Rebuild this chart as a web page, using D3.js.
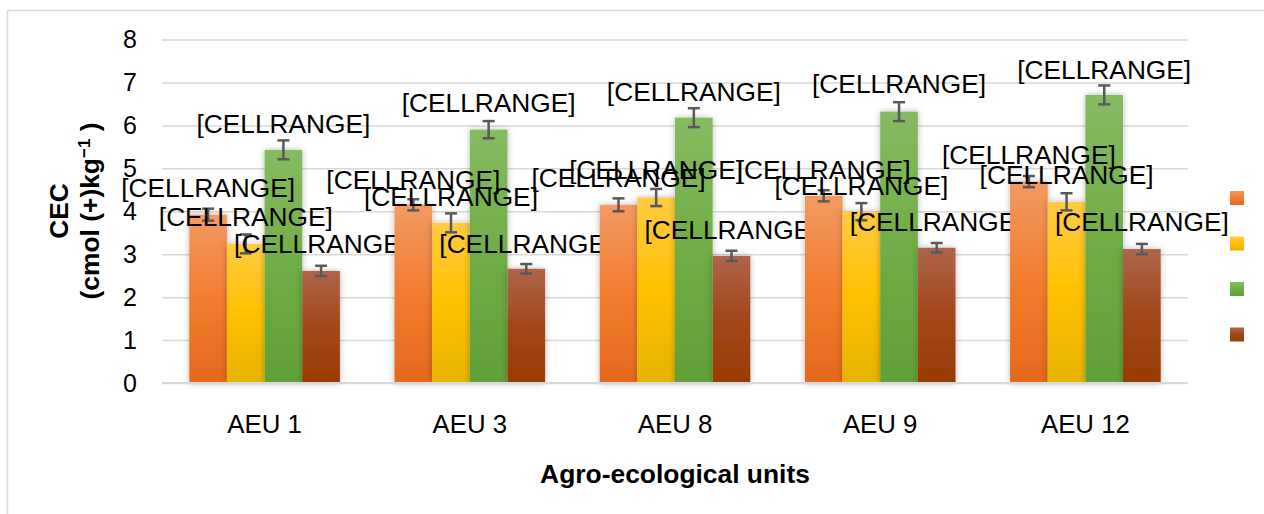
<!DOCTYPE html>
<html>
<head>
<meta charset="utf-8">
<script src="https://cdn.jsdelivr.net/npm/d3@7"></script>
<style>
  html, body { margin: 0; padding: 0; background: #fff; }
  svg { display: block; font-family: "Liberation Sans", Arial, sans-serif; }
</style>
</head>
<body>
<svg id="chart" width="1264" height="514"></svg>
<script>
// ---- data ----
const categories = ["AEU 1", "AEU 3", "AEU 8", "AEU 9", "AEU 12"];
const seriesNames = ["s1", "s2", "s3", "s4"];
const orangeValues = [3.92, 4.15, 4.15, 4.36, 4.69];
const yellowValues = [3.24, 3.73, 4.32, 3.99, 4.22];
const greenValues  = [5.43, 5.90, 6.18, 6.32, 6.71];
const brownValues  = [2.61, 2.66, 2.96, 3.15, 3.12];
const orangeErr = [0.14, 0.13, 0.15, 0.13, 0.13];
const yellowErr = [0.22, 0.22, 0.20, 0.20, 0.20];
const greenErr  = [0.22, 0.20, 0.22, 0.22, 0.22];
const brownErr  = [0.12, 0.11, 0.12, 0.11, 0.12];
// data-label anchor heights (axis units), labels are manually placed "[CELLRANGE]"
const orangeLabelAt = [4.54, 4.73, 4.77, 4.96, 5.31];
const yellowLabelAt = [3.87, 4.33, 4.96, 4.59, 4.84];
const greenLabelAt  = [6.03, 6.52, 6.78, 6.96, 7.29];
const brownLabelAt  = [3.24, 3.24, 3.56, 3.75, 3.75];
const labelText = "[CELLRANGE]";
const yTicks = [0, 1, 2, 3, 4, 5, 6, 7, 8];
const xTitle = "Agro-ecological units";
const yTitle1 = "CEC";

const values = [orangeValues, yellowValues, greenValues, brownValues];
const errs = [orangeErr, yellowErr, greenErr, brownErr];
const labelAt = [orangeLabelAt, yellowLabelAt, greenLabelAt, brownLabelAt];
const gradStops = [
  ["#F29A63", "#F27C2E", "#E3691C"],
  ["#FFCB43", "#FFC100", "#E5B300"],
  ["#86BB61", "#6FAD45", "#61A038"],
  ["#AE654A", "#A2471B", "#983C00"]
];

// ---- layout ----
const svg = d3.select("#chart");
const plotL = 162, plotR = 1188, plotT = 39.5, plotB = 383;

const y = d3.scaleLinear().domain([0, 8]).range([plotB, plotT]);
const x0 = d3.scaleBand().domain(categories).range([plotL, plotR])
  .paddingInner(0.266).paddingOuter(0.133);
const x1 = d3.scaleBand().domain(seriesNames).range([0, x0.bandwidth()]);

// chart border
svg.append("rect").attr("x", 7.5).attr("y", 10.5).attr("width", 1270).attr("height", 520)
  .attr("fill", "none").attr("stroke", "#d9d9d9").attr("stroke-width", 1.5);

// defs
const defs = svg.append("defs");
gradStops.forEach((g, i) => {
  const lg = defs.append("linearGradient").attr("id", "g" + i)
    .attr("x1", 0).attr("y1", 0).attr("x2", 0).attr("y2", 1);
  lg.append("stop").attr("offset", "0%").attr("stop-color", g[0]);
  lg.append("stop").attr("offset", "50%").attr("stop-color", g[1]);
  lg.append("stop").attr("offset", "100%").attr("stop-color", g[2]);
});
const f = defs.append("filter").attr("id", "shadow")
  .attr("x", "-30%").attr("y", "-10%").attr("width", "160%").attr("height", "120%");
f.append("feDropShadow").attr("dx", 0).attr("dy", 0).attr("stdDeviation", 3)
  .attr("flood-color", "#000").attr("flood-opacity", 0.28);

// gridlines
const yAxis = d3.axisLeft(y).tickValues(yTicks).tickSize(-(plotR - plotL)).tickPadding(25)
  .tickFormat(d3.format("d"));
const gy = svg.append("g").attr("transform", `translate(${plotL},0)`).call(yAxis);
gy.select(".domain").remove();
gy.selectAll(".tick line").attr("stroke", "#d9d9d9").attr("stroke-width", 1.5);
gy.selectAll(".tick text").attr("font-size", 25).attr("fill", "#000")
  .attr("font-family", "Liberation Sans, Arial, sans-serif");

// bars
const groups = svg.append("g").selectAll("g").data(categories).join("g")
  .attr("transform", d => `translate(${x0(d)},0)`);

seriesNames.forEach((s, si) => {
  groups.append("rect")
    .attr("x", x1(s))
    .attr("y", (d, ci) => y(values[si][ci]))
    .attr("width", x1.bandwidth())
    .attr("height", (d, ci) => y(0) - y(values[si][ci]))
    .attr("fill", `url(#g${si})`)
    .attr("filter", "url(#shadow)");
});

// x axis baseline
svg.append("line").attr("x1", plotL).attr("x2", plotR).attr("y1", y(0)).attr("y2", y(0))
  .attr("stroke", "#d9d9d9").attr("stroke-width", 2);

// error bars
seriesNames.forEach((s, si) => {
  const eg = groups.append("g").attr("stroke", "#595959").attr("stroke-width", 2.5);
  const cx = x1(s) + x1.bandwidth() / 2;
  eg.append("line").attr("x1", cx).attr("x2", cx)
    .attr("y1", (d, ci) => y(values[si][ci] + errs[si][ci]))
    .attr("y2", (d, ci) => y(values[si][ci] - errs[si][ci]));
  eg.append("line").attr("x1", cx - 6).attr("x2", cx + 6)
    .attr("y1", (d, ci) => y(values[si][ci] + errs[si][ci]))
    .attr("y2", (d, ci) => y(values[si][ci] + errs[si][ci]));
  eg.append("line").attr("x1", cx - 6).attr("x2", cx + 6)
    .attr("y1", (d, ci) => y(values[si][ci] - errs[si][ci]))
    .attr("y2", (d, ci) => y(values[si][ci] - errs[si][ci]));
});

// data labels
seriesNames.forEach((s, si) => {
  groups.append("text")
    .attr("x", x1(s) + x1.bandwidth() / 2)
    .attr("y", (d, ci) => y(labelAt[si][ci]))
    .attr("dy", "0.35em")
    .attr("text-anchor", "middle")
    .attr("font-size", 26.3)
    .attr("fill", "#000")
    .text(labelText);
});

// category labels
svg.append("g").selectAll("text").data(categories).join("text")
  .attr("x", d => x0(d) + x0.bandwidth() / 2)
  .attr("y", 424).attr("dy", "0.35em")
  .attr("text-anchor", "middle").attr("font-size", 25.8).attr("fill", "#000")
  .text(d => d);

// x title
svg.append("text").attr("x", 675).attr("y", 474).attr("dy", "0.35em")
  .attr("text-anchor", "middle").attr("font-size", 26.4).attr("font-weight", "bold")
  .attr("fill", "#000").text(xTitle);

// y title (two lines)
const yt = svg.append("text").attr("transform", "translate(0,211) rotate(-90)")
  .attr("text-anchor", "middle").attr("font-size", 26.4).attr("font-weight", "bold").attr("fill", "#000");
yt.append("tspan").attr("x", 0).attr("y", 59).attr("dy", "0.35em").text(yTitle1);
yt.append("tspan").attr("x", 0).attr("y", 90).attr("dy", "0.35em").text("(cmol (+)kg");
yt.append("tspan").attr("font-size", 17).attr("dy", "-0.55em").text("\u22121");
yt.append("tspan").attr("dy", "0.35em").text(" )");

// legend (markers only)
svg.append("g").selectAll("rect").data(seriesNames).join("rect")
  .attr("x", 1230).attr("y", (d, i) => 191 + i * 45.5)
  .attr("width", 14).attr("height", 14)
  .attr("fill", (d, i) => `url(#g${i})`);
</script>
</body>
</html>
